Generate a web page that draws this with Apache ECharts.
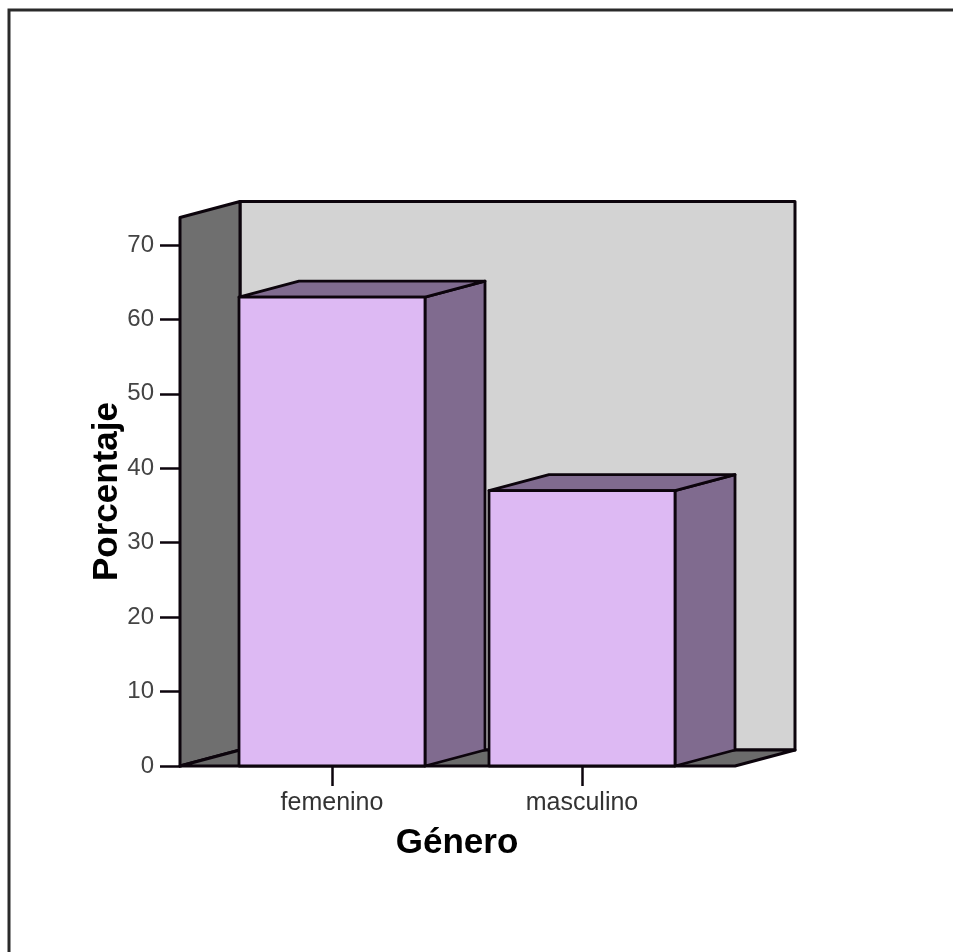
<!DOCTYPE html>
<html>
<head>
<meta charset="utf-8">
<script src="https://cdn.jsdelivr.net/npm/echarts@6/dist/echarts.min.js"></script>
<style>
  html, body { margin: 0; padding: 0; background: #ffffff; }
  #chart { width: 953px; height: 952px; }
</style>
</head>
<body>
<div id="chart"></div>
<script>
// Gender distribution (percent)
const categories = ['femenino', 'masculino'];
const percentages = [63.0, 37.0];
const yTickValues = [0, 10, 20, 30, 40, 50, 60, 70];

// 3D box look
const DEPTH_X = 60;
const DEPTH_Y = -16;
const BOX_TOP = 73.7;      // value at the top edge of the walls
const EDGE = '#0c040c';
const FONT = '"Liberation Sans", Arial, sans-serif';

const chart = echarts.init(document.getElementById('chart'));

function renderFrame(params, api) {
  const cs = params.coordSys;
  const y0 = api.coord([0, 0])[1];
  const yTop = api.coord([0, BOX_TOP])[1];
  const left = cs.x - 27;
  const right = cs.x + cs.width + 28;
  const stroke = { stroke: EDGE, lineWidth: 3, lineJoin: 'round' };
  return {
    type: 'group',
    children: [
      { type: 'polygon', shape: { points: [
          [left + DEPTH_X, yTop + DEPTH_Y], [right + DEPTH_X, yTop + DEPTH_Y],
          [right + DEPTH_X, y0 + DEPTH_Y], [left + DEPTH_X, y0 + DEPTH_Y]] },
        style: Object.assign({ fill: '#d3d3d3' }, stroke) },
      { type: 'polygon', shape: { points: [
          [left, yTop], [left + DEPTH_X, yTop + DEPTH_Y],
          [left + DEPTH_X, y0 + DEPTH_Y], [left, y0]] },
        style: Object.assign({ fill: '#6f6f6f' }, stroke) },
      { type: 'polygon', shape: { points: [
          [left, y0], [left + DEPTH_X, y0 + DEPTH_Y],
          [right + DEPTH_X, y0 + DEPTH_Y], [right, y0]] },
        style: Object.assign({ fill: '#6b6b6b' }, stroke) }
    ]
  };
}

function renderBar(params, api) {
  const top = api.coord([api.value(0), api.value(1)]);
  const base = api.coord([api.value(0), 0])[1];
  const w = api.size([1, 0])[0] * 0.744;
  const x0 = top[0] - w / 2;
  const yv = top[1];
  const stroke = { stroke: EDGE, lineWidth: 2.8, lineJoin: 'round' };
  return {
    type: 'group',
    children: [
      { type: 'polygon', shape: { points: [
          [x0 + w, yv], [x0 + w + DEPTH_X, yv + DEPTH_Y],
          [x0 + w + DEPTH_X, base + DEPTH_Y], [x0 + w, base]] },
        style: Object.assign({ fill: '#806b8f' }, stroke) },
      { type: 'polygon', shape: { points: [
          [x0, yv], [x0 + DEPTH_X, yv + DEPTH_Y],
          [x0 + w + DEPTH_X, yv + DEPTH_Y], [x0 + w, yv]] },
        style: Object.assign({ fill: '#806b8f' }, stroke) },
      { type: 'rect', shape: { x: x0, y: yv, width: w, height: base - yv },
        style: Object.assign({ fill: '#ddb9f3' }, stroke) }
    ]
  };
}

chart.setOption({
  backgroundColor: '#ffffff',
  animation: false,
  graphic: [{
    type: 'rect',
    shape: { x: 9, y: 10, width: 1000, height: 1000 },
    style: { fill: 'none', stroke: '#2a2a2a', lineWidth: 3 },
    z: -10
  }],
  grid: { left: 207, right: 246, top: 245, bottom: 186 },
  xAxis: {
    type: 'category',
    data: categories,
    name: 'Género',
    nameLocation: 'middle',
    nameGap: 60,
    nameTextStyle: { fontFamily: FONT, fontWeight: 'bold', fontSize: 35, color: '#000' },
    axisLine: { show: false },
    axisTick: { show: true, alignWithLabel: true, length: 20, lineStyle: { color: EDGE, width: 2.5 } },
    axisLabel: { fontFamily: FONT, fontSize: 25, color: '#333', margin: 25 },
    splitLine: { show: false }
  },
  yAxis: {
    type: 'value',
    min: 0,
    max: 70,
    interval: 10,
    offset: 27,
    name: 'Porcentaje',
    nameLocation: 'middle',
    nameGap: 55,
    nameMoveOverlap: false,
    nameTextStyle: { fontFamily: FONT, fontWeight: 'bold', fontSize: 35, color: '#000', padding: [0, 0, 0, 28] },
    axisLine: { show: true, lineStyle: { color: EDGE, width: 3 } },
    axisTick: { show: true, length: 20, lineStyle: { color: EDGE, width: 2.5 },
                customValues: yTickValues },
    axisLabel: { fontFamily: FONT, fontSize: 24, color: '#444', margin: 26,
                 customValues: yTickValues },
    splitLine: { show: false }
  },
  series: [
    {
      type: 'custom',
      name: 'frame',
      renderItem: renderFrame,
      data: [[0, 0]],
      silent: true,
      z: 1
    },
    {
      type: 'custom',
      name: 'Porcentaje',
      renderItem: renderBar,
      encode: { x: 0, y: 1 },
      data: categories.map((c, i) => [i, percentages[i]]),
      z: 2
    }
  ]
});
</script>
</body>
</html>
